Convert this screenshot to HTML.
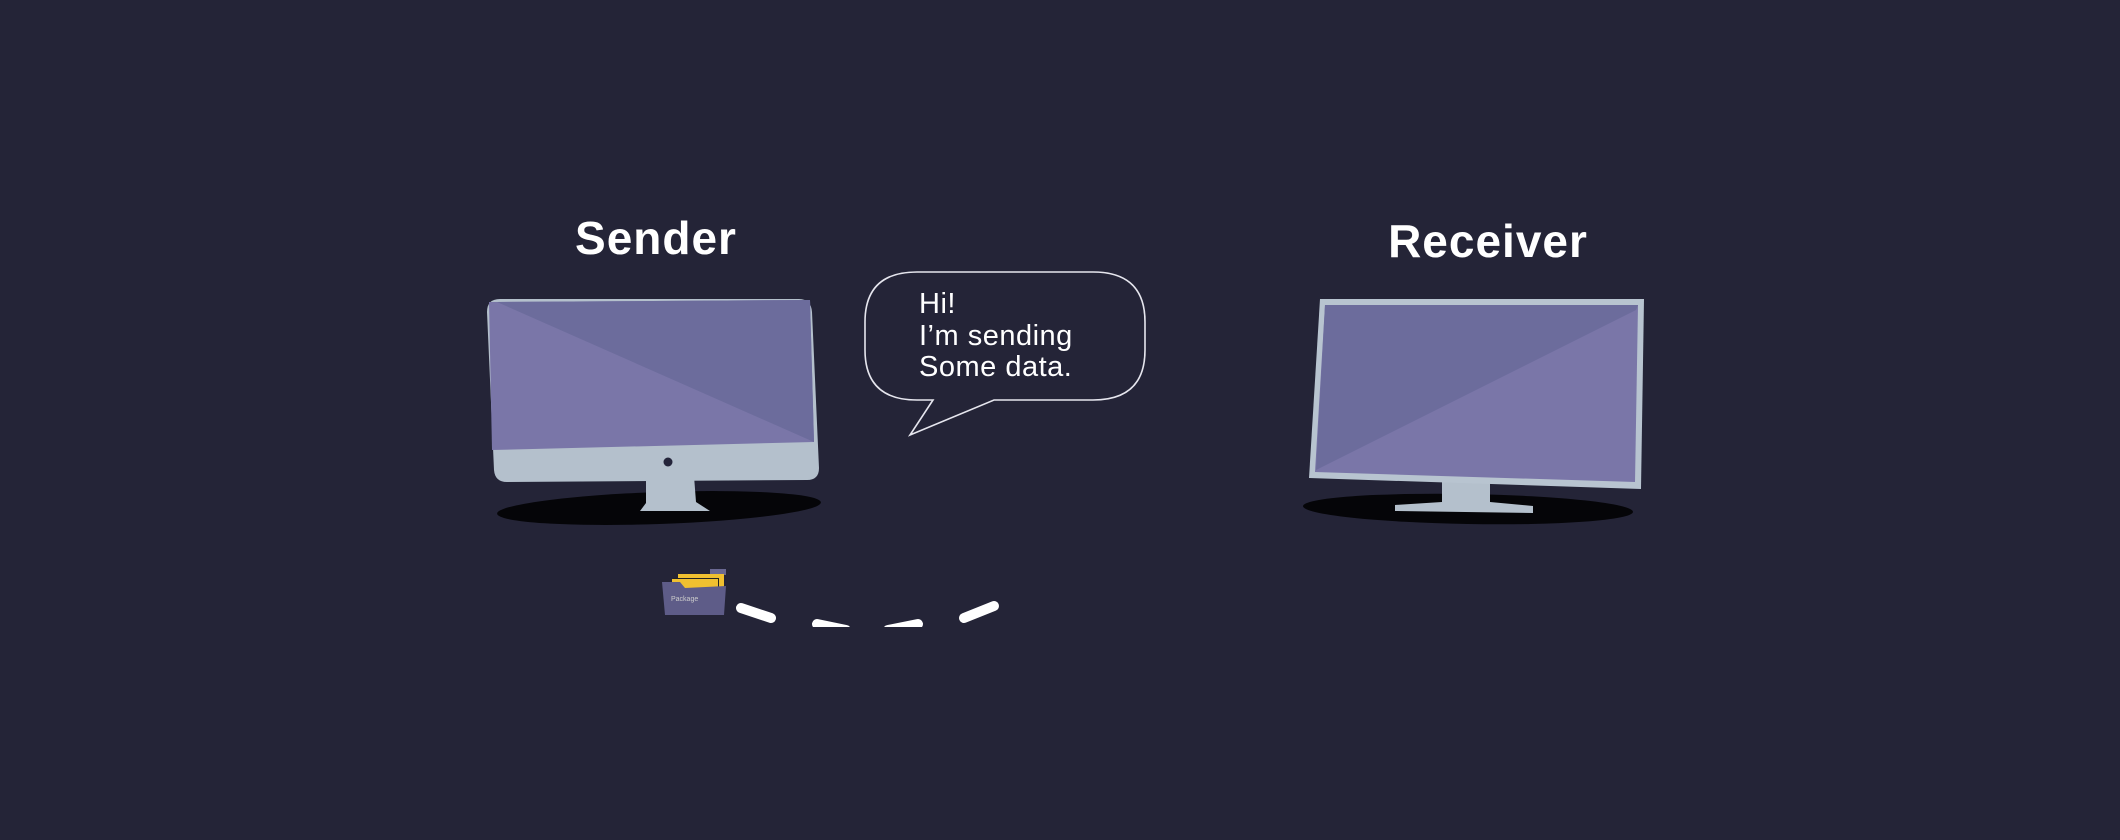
<!DOCTYPE html>
<html><head><meta charset="utf-8"><style>
html,body{margin:0;padding:0;background:#242437;}
svg{display:block}
text{font-family:"Liberation Sans",sans-serif;fill:#fff}
</style></head><body>
<svg width="2120" height="840" viewBox="0 0 2120 840">
<rect width="2120" height="840" fill="#242437"/>
<!-- Sender -->
<text x="656" y="254" font-size="46" font-weight="bold" text-anchor="middle" letter-spacing="1">Sender</text>
<ellipse cx="659" cy="508" rx="162" ry="16" fill="#050508" transform="rotate(-2 659 508)"/>
<polygon points="646,476 694,476 696,502 710,511 640,511 646,503" fill="#b4c0cc"/>
<path d="M500,299 L799,299 Q811,299 812,312 L819,468 Q819,480 807,480 L507,482 Q495,482 494,470 L487,312 Q487,299 500,299 Z" fill="#b4c0cc"/>
<polygon points="489,302 810,300 814,442 492,450" fill="#7a76a8"/>
<polygon points="497,302 810,300 814,442" fill="#6c6c9c"/>
<circle cx="668" cy="462" r="4.5" fill="#24243a"/>
<!-- bubble -->
<path d="M917,272 L1093,272 Q1145,272 1145,322 L1145,350 Q1145,400 1093,400 L994,400 L910,435 L933,400 L917,400 Q865,400 865,350 L865,322 Q865,272 917,272 Z" fill="#242437" stroke="#e6e6ee" stroke-width="1.6"/>
<text x="919" y="313" font-size="29" letter-spacing="0.5">Hi!</text>
<text x="919" y="345" font-size="29" letter-spacing="0.5">I’m sending</text>
<text x="919" y="376" font-size="29" letter-spacing="0.5">Some data.</text>
<!-- folder -->
<polygon points="710,569 726,569 726,575 710,575" fill="#6a6892"/>
<rect x="678" y="574" width="46" height="32" fill="#f0c030"/>
<rect x="673" y="578" width="46" height="32" fill="#222"/>
<rect x="672" y="579" width="46" height="32" fill="#f0c030"/>
<polygon points="662,582 680,582 685,588 726,586 724,615 665,615" fill="#5e5c88"/>
<text x="671" y="601" font-size="7" style="fill:#ccc">Package</text>
<!-- dashes -->
<g stroke="#fff" stroke-width="10" stroke-linecap="round" fill="none">
<line x1="741" y1="608" x2="771" y2="618"/>
<line x1="964" y1="618" x2="994" y2="606"/>
</g>
<clipPath id="c"><rect x="0" y="0" width="2120" height="627"/></clipPath>
<g clip-path="url(#c)" stroke="#fff" stroke-width="10" stroke-linecap="round">
<line x1="817" y1="624" x2="846" y2="630"/>
<line x1="888" y1="630" x2="918" y2="624"/>
</g>
<!-- Receiver -->
<text x="1488" y="257" font-size="46" font-weight="bold" text-anchor="middle" letter-spacing="1">Receiver</text>
<ellipse cx="1468" cy="509" rx="165" ry="15" fill="#050508" transform="rotate(1 1468 509)"/>
<polygon points="1442,478 1490,478 1490,502 1533,506 1533,513 1395,511 1395,505 1442,502" fill="#b4c0cc"/>
<polygon points="1320,299 1644,299 1641,489 1309,478" fill="#b8c4d0"/>
<polygon points="1325,305 1638,305 1635,482 1315,472" fill="#7a76a8"/>
<polygon points="1325,305 1638,305 1636,310 1316,470" fill="#6c6c9c"/>
</svg>
</body></html>
